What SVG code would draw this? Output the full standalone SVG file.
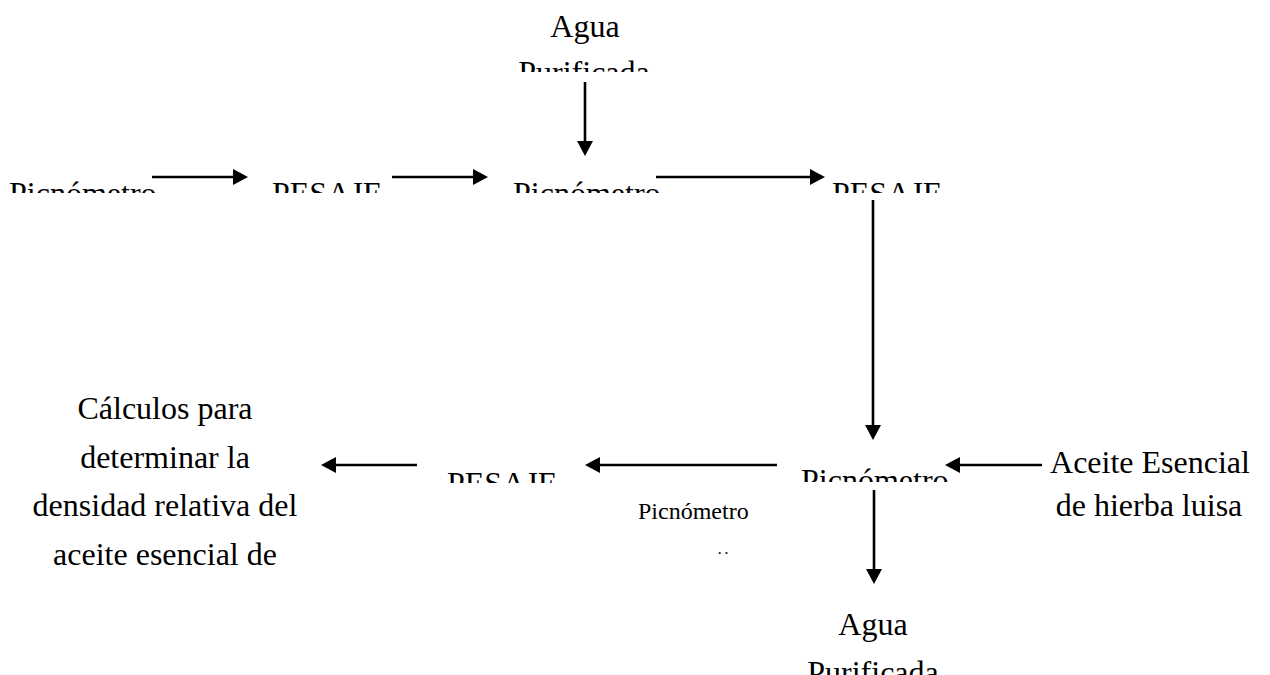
<svg xmlns="http://www.w3.org/2000/svg" width="1270" height="675" viewBox="0 0 1270 675">
  <style>
    .t { font-family: "Liberation Serif", "Times New Roman", serif; font-size: 32px; fill: #000; }
    .s { font-family: "Liberation Serif", "Times New Roman", serif; font-size: 24px; fill: #000; }
    .c { text-anchor: middle; }
    .ln { stroke: #000; stroke-width: 2.6; fill: none; marker-end: url(#ah); }
  </style>
  <defs>
    <marker id="ah" markerUnits="userSpaceOnUse" markerWidth="16" markerHeight="18" refX="5" refY="8" orient="auto" viewBox="0 0 16 16">
      <path d="M0,0 L15,8 L0,16 z" fill="#000"/>
    </marker>
    <clipPath id="clipTop"><rect x="0" y="0" width="1270" height="193"/></clipPath>
    <clipPath id="clipAguaTop"><rect x="0" y="0" width="1270" height="72"/></clipPath>
    <clipPath id="clipPesajeB"><rect x="0" y="0" width="1270" height="483"/></clipPath>
    <clipPath id="clipPicB"><rect x="0" y="0" width="1270" height="482"/></clipPath>
  </defs>

  <g id="connectors">
    <line class="ln" x1="152" y1="177" x2="238" y2="177"/>
    <line class="ln" x1="392" y1="177" x2="478" y2="177"/>
    <line class="ln" x1="656" y1="177" x2="815" y2="177"/>
    <line class="ln" x1="585" y1="82" x2="585" y2="146"/>
    <line class="ln" x1="873" y1="200" x2="873" y2="430"/>
    <line class="ln" x1="1042" y1="465" x2="955" y2="465"/>
    <line class="ln" x1="777" y1="465" x2="595" y2="465"/>
    <line class="ln" x1="417" y1="465" x2="331" y2="465"/>
    <line class="ln" x1="874" y1="490" x2="874" y2="574"/>
  </g>

  <g id="n-picnometro-1" clip-path="url(#clipTop)">
    <text class="t" x="9" y="204">Picnómetro</text>
  </g>
  <g id="n-pesaje-1" clip-path="url(#clipTop)">
    <text class="t" x="272" y="204">PESAJE</text>
  </g>
  <g id="n-agua-top">
    <text class="t c" x="585" y="37">Agua</text>
    <text class="t c" x="584" y="83" clip-path="url(#clipAguaTop)">Purificada</text>
  </g>
  <g id="n-picnometro-2" clip-path="url(#clipTop)">
    <text class="t" x="513" y="204">Picnómetro</text>
  </g>
  <g id="n-pesaje-2" clip-path="url(#clipTop)">
    <text class="t" x="832" y="204">PESAJE</text>
  </g>
  <g id="n-picnometro-3" clip-path="url(#clipPicB)">
    <text class="t" x="801" y="491">Picnómetro</text>
  </g>
  <g id="n-aceite">
    <text class="t c" x="1150" y="473">Aceite Esencial</text>
    <text class="t c" x="1149" y="516">de hierba luisa</text>
  </g>
  <g id="n-agua-bottom">
    <text class="t c" x="873" y="635">Agua</text>
    <text class="t c" x="873" y="683">Purificada</text>
  </g>
  <g id="n-pesaje-3" clip-path="url(#clipPesajeB)">
    <text class="t" x="447" y="494">PESAJE</text>
  </g>
  <g id="n-picnometro-label">
    <text class="s" x="638" y="519">Picnómetro</text>
    <text x="718" y="554" style="font-family:'Liberation Sans',sans-serif;font-size:12px;font-weight:bold;fill:#222">. .</text>
  </g>
  <g id="n-calculos">
    <text class="t c" x="165" y="419">Cálculos para</text>
    <text class="t c" x="165" y="467.5">determinar la</text>
    <text class="t c" x="165" y="516">densidad relativa del</text>
    <text class="t c" x="165" y="564.5">aceite esencial de</text>
  </g>
</svg>
